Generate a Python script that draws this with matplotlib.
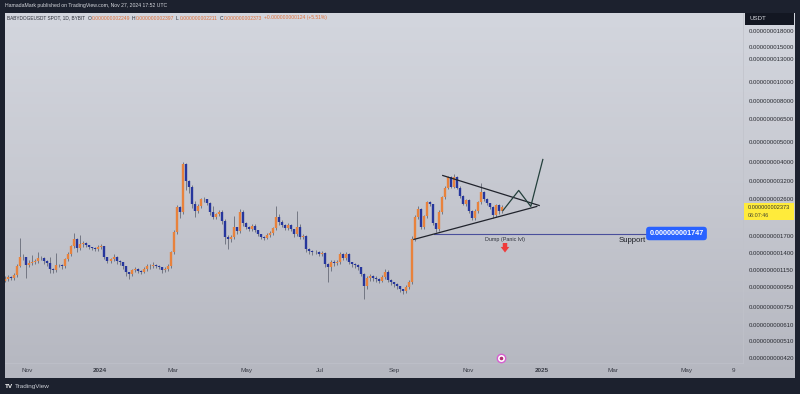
import numpy as np
import pandas as pd
import matplotlib
matplotlib.use('Agg')
import matplotlib.pyplot as plt

plt.rcParams['font.family'] = ['Liberation Sans', 'DejaVu Sans']

# prices are in units of 1e-12 USDT
closes = [1035,1059,1047,1083,1201,1332,1332,1215,1243,1257,1272,1317,1317,1272,1243,1161,1148,1215,1215,1201,
          1302,1379,1512,1638,1477,1547,1565,1530,1495,1477,1460,1495,1512,1332,1272,1302,1332,1272,1257,1201,
          1122,1096,1148,1161,1135,1122,1161,1201,1201,1215,1201,1187,1148,1161,1201,1410,1776,2366,2233,3877,
          3188,3009,2448,2259,2393,2593,2593,2476,2233,2109,2183,2233,2014,1676,1638,1676,1880,1796,2233,1968,
          1880,1838,1902,1817,1735,1676,1657,1715,1756,1859,2109,1991,1924,1859,1924,1838,1735,1880,1676,1695,
          1460,1427,1410,1410,1379,1395,1229,1187,1257,1243,1257,1379,1317,1379,1257,1229,1215,1187,1096,955,
          1047,1071,1047,1035,1011,1059,1122,1023,999,977,955,923,902,944,999,1638,2109,2312,1880,2134,
          2505,2448,1968,1838,2233,2653,2975,3338,3009,3338,2975,2684,2448,2564,2259,2085,2259,2505,2811,2593,
          2476,2366,2158,2420,2259,2373]
highs = [1070,1085,1075,1110,1240,1660,1380,1345,1290,1363,1310,1410,1350,1340,1300,1345,1180,1395,1240,1240,
         1330,1410,1540,1756,1660,1720,1600,1590,1540,1510,1500,1540,1560,1520,1310,1330,1380,1350,1290,1270,
         1210,1130,1170,1190,1180,1150,1190,1230,1240,1260,1240,1220,1190,1190,1230,1440,1820,2420,2400,4000,
         3950,3250,3050,2560,2460,2650,2660,2600,2510,2393,2230,2290,2300,2060,1720,1720,2140,1900,2330,2290,
         2010,1920,1950,1950,1790,1750,1710,1760,1800,1900,2393,2200,2040,1960,1980,1960,1790,2280,1950,1740,
         1730,1490,1450,1450,1440,1430,1410,1250,1290,1290,1290,1420,1400,1420,1400,1270,1250,1230,1200,1110,
         1080,1100,1090,1070,1050,1090,1160,1150,1040,1010,990,960,930,970,1030,1700,2170,2400,2340,2180,
         2550,2560,2450,1990,2290,2700,3040,3400,3400,3460,3380,3020,2720,2620,2600,2300,2320,2560,3140,2850,
         2630,2500,2400,2470,2460,2430]
lows = [1000,1020,1030,1030,1060,1190,1290,1050,1190,1220,1240,1250,1290,1240,1210,1120,1110,1130,1190,1170,
        1180,1280,1360,1490,1420,1450,1510,1500,1460,1450,1430,1440,1470,1310,1250,1250,1280,1240,1220,1170,
        1080,1040,1080,1130,1110,1100,1110,1140,1170,1180,1180,1160,1120,1130,1140,1180,1380,1740,2100,2190,
        2900,2800,2340,2109,2220,2350,2520,2420,2180,2070,2070,2150,1960,1560,1460,1590,1640,1750,1770,1920,
        1840,1800,1810,1780,1700,1640,1620,1640,1680,1720,1830,1940,1880,1820,1820,1800,1690,1700,1640,1650,
        1420,1390,1370,1380,1350,1350,1190,1000,1140,1210,1220,1230,1290,1290,1230,1200,1180,1150,1070,822,
        930,1020,1020,1000,990,1000,1040,1000,970,950,930,900,880,890,930,980,1600,2060,1840,1850,
        2090,2400,1930,1790,1810,2200,2610,2940,2950,2960,2920,2640,2420,2410,2220,2040,2050,2220,2470,2550,
        2430,2320,2100,2120,2200,2230]

price_ticks = [18000,15000,13000,10000,8000,6500,5000,4000,3200,2600,1700,1400,1150,950,750,610,510,420]
month_ticks = ['2023-11-01','2024-01-01','2024-03-01','2024-05-01','2024-07-01','2024-09-01',
               '2024-11-01','2025-01-01','2025-03-01','2025-05-01','2025-06-09']
month_labels = ['Nov','2024','Mar','May','Jul','Sep','Nov','2025','Mar','May','9']

upper_dates = ['2024-10-11','2024-12-30']
upper_prices = [3416,2420]
lower_dates = ['2024-09-17','2024-12-28']
lower_prices = [1638,2393]
path_dates = ['2024-11-30','2024-12-13','2024-12-23','2025-01-02']
path_prices = [2286,2877,2393,4106]
support_dates = ['2024-10-04','2025-03-31']
support_prices = [1747,1747]

W, H = 800, 394
BG = '#1c212e'
UP = '#e8823c'
DOWN = '#26369c'
WICK = '#5f6370'


def fx(x):
    return x / W


def fy(y):
    return 1 - y / H


def put(x, y, s, **kw):
    kw.setdefault('va', 'center')
    kw.setdefault('fontsize', 4.2)
    fig.text(fx(x), fy(y), s, **kw)


fig = plt.figure(figsize=(8, 3.94), dpi=100, facecolor=BG)

# panel with the soft vertical gradient
bg = fig.add_axes([fx(5), fy(378), fx(790), 365 / H], zorder=0)
bg.imshow(np.linspace(0, 1, 256).reshape(-1, 1), aspect='auto',
          cmap=matplotlib.colors.LinearSegmentedColormap.from_list('p', ['#d3d6de', '#c6c8d0', '#b5b7c0']))
bg.axis('off')

ax = fig.add_axes([fx(5), fy(363), fx(738), 350 / H], zorder=1)
ax.patch.set_alpha(0)
ax.set_yscale('log')
ax.set_ylim(396, 22100)
ax.set_xlim(pd.Timestamp('2023-10-14'), pd.Timestamp('2025-06-17'))

dates = pd.date_range('2023-10-14', periods=len(closes), freq='60h')
closes = np.array(closes)
opens = np.r_[1020, closes[:-1]]
colors = [UP if c >= o else DOWN for o, c in zip(opens, closes)]
ax.vlines(dates, lows, highs, color=WICK, lw=0.55, zorder=2)
ax.vlines(dates, opens, closes, color=colors, lw=1.7, zorder=3, capstyle='butt')

ax.plot(pd.to_datetime(upper_dates), upper_prices, color='#20232c', lw=0.9, zorder=4)
ax.plot(pd.to_datetime(lower_dates), lower_prices, color='#20232c', lw=0.9, zorder=4)
ax.plot(pd.to_datetime(path_dates), path_prices, color='#24403c', lw=0.9, zorder=4)
ax.plot(pd.to_datetime(support_dates), support_prices, color='#4a4f9c', lw=0.8, zorder=3)

ax.yaxis.tick_right()
ax.set_yticks(price_ticks)
ax.set_yticklabels([f'{p * 1e-12:.12f}' for p in price_ticks])
ax.minorticks_off()
ax.tick_params(axis='y', length=0, pad=4.2, labelsize=4.3, labelcolor='#26282f')
ax.set_xticks(pd.to_datetime(month_ticks))
ax.set_xticklabels(month_labels)
ax.tick_params(axis='x', length=0, pad=3.5, labelsize=4.6, labelcolor='#3a3d47')
for lab in ax.get_xticklabels():
    if lab.get_text() in ('2024', '2025'):
        lab.set_fontweight('bold')
for side in ['top', 'left']:
    ax.spines[side].set_visible(False)
ax.spines['right'].set_color('#c0c2ca')
ax.spines['bottom'].set_color('#c0c2ca')
ax.spines['right'].set_linewidth(0.5)
ax.spines['bottom'].set_linewidth(0.5)

# pink news icon under the chart
icon_x = pd.Timestamp('2024-11-28')
ax.plot([icon_x], [420], 'o', ms=6, mfc='white', mec='#d65fd0', mew=1.0, zorder=5)
ax.plot([icon_x], [420], 'o', ms=1.6, color='#b03070', zorder=6)

# header and footer
put(5, 6, 'HamadaMark published on TradingView.com, Nov 27, 2024 17:52 UTC', color='#d5d7dd', fontsize=3.7)
put(7, 18, 'BABYDOGEUSDT SPOT, 1D, BYBIT', color='#2b2e38', fontsize=3.4)
quote = [(88, 'O', '0.000000002249'), (132, 'H', '0.000000002397'), (176, 'L', '0.000000002211'),
         (220, 'C', '0.000000002373')]
for x, k, v in quote:
    put(x, 18, k, color='#2b2e38', fontsize=3.6)
    put(x + 3.6, 18, v, color='#e0703a', fontsize=3.6)
put(264, 18, '+0.000000000124 (+5.51%)', color='#e0703a', fontsize=3.6)
put(5, 386.5, 'TV', color='white', fontsize=4.6, fontweight='bold')
put(15, 386.5, 'TradingView', color='#c9ccd3', fontsize=4.6)

# price scale labels
fig.patches.append(plt.Rectangle((fx(745), fy(24.5)), 49 / W, 11 / H, transform=fig.transFigure, fc='#131722', ec='none', zorder=5))
put(749, 19, 'USDT', color='#d8dae0', fontsize=4.4, zorder=6)
fig.patches.append(plt.Rectangle((fx(744), fy(220)), 50 / W, 17 / H, transform=fig.transFigure, fc='#ffeb3b', ec='none', zorder=5))
put(747.5, 207.5, '0.000000002373', color='#34352a', fontsize=4.1, zorder=6)
put(747.5, 215.5, '06:07:46', color='#4a4a30', fontsize=3.9, zorder=6)

# chart annotations
put(505, 239, 'Dump (Panic lvl)', color='#30333c', fontsize=3.9, ha='center')
put(632, 240, 'Support', color='#1d1f26', fontsize=5.6, ha='center')
put(676.5, 233.5, '0.000000001747', color='white', fontsize=5.2, ha='center', fontweight='bold', zorder=6,
    bbox=dict(boxstyle='round,pad=0.45', fc='#2962ff', ec='none'))
ax.annotate('', xy=(fx(505), fy(252.5)), xytext=(fx(505), fy(243)), xycoords='figure fraction',
            textcoords='figure fraction',
            arrowprops=dict(arrowstyle='simple,head_width=0.62,head_length=0.4,tail_width=0.32',
                            color='#ef3b3b', lw=0, shrinkA=0, shrinkB=0))

assert len(closes) == len(highs) == len(lows)
fig.savefig('out.png', dpi=100, facecolor=BG)
